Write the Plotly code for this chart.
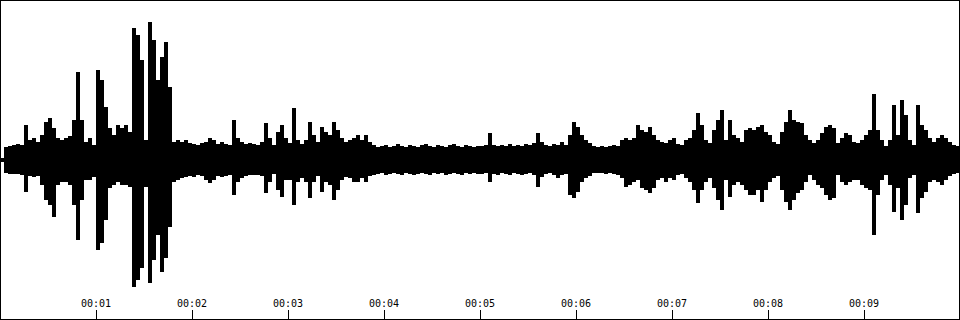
import numpy as np
import plotly.graph_objects as go

# Waveform envelope, 24 bins per second (peak amplitude above / below centre, scale +-160)
BINS_PER_SEC = 24
peak_top = [
    2, 13, 14, 15, 16, 15, 35, 20, 22, 18, 25, 38, 42, 32, 22, 20, 22, 24, 40, 88,
    40, 18, 22, 15, 90, 80, 53, 32, 25, 35, 32, 35, 28, 132, 125, 100, 20, 138, 120, 80,
    103, 118, 73, 18, 20, 18, 20, 17, 16, 15, 17, 18, 22, 20, 16, 18, 16, 15, 40, 22,
    18, 16, 17, 16, 15, 18, 37, 22, 15, 28, 35, 22, 17, 52, 20, 16, 20, 38, 25, 18,
    33, 28, 25, 38, 30, 22, 18, 20, 22, 25, 20, 25, 18, 15, 13, 14, 15, 13, 14, 16,
    14, 13, 15, 14, 13, 15, 16, 14, 13, 15, 14, 13, 15, 16, 14, 13, 15, 14, 13, 14,
    14, 15, 27, 15, 14, 15, 14, 16, 14, 15, 14, 16, 15, 17, 27, 18, 15, 14, 16, 15,
    18, 15, 25, 38, 33, 25, 20, 17, 14, 13, 14, 13, 14, 15, 14, 20, 22, 20, 22, 35,
    30, 28, 33, 25, 20, 18, 17, 20, 22, 16, 15, 20, 22, 30, 47, 35, 20, 17, 30, 40,
    50, 20, 40, 25, 22, 18, 30, 32, 30, 33, 35, 28, 25, 18, 16, 28, 38, 50, 40, 38,
    37, 25, 20, 17, 20, 27, 33, 35, 32, 17, 22, 27, 25, 18, 17, 20, 25, 30, 66, 30,
    20, 14, 20, 55, 25, 60, 45, 20, 15, 55, 35, 30, 22, 18, 22, 25, 22, 18, 15, 14,
]
peak_bottom = [
    2, 13, 14, 14, 14, 15, 32, 16, 17, 16, 25, 40, 45, 57, 25, 22, 22, 25, 45, 80,
    40, 20, 20, 17, 90, 83, 60, 28, 25, 22, 25, 25, 27, 127, 120, 108, 27, 123, 100, 75,
    112, 98, 67, 22, 20, 18, 17, 16, 17, 15, 16, 20, 23, 20, 16, 17, 16, 15, 35, 22,
    18, 16, 15, 15, 15, 16, 33, 22, 14, 30, 37, 20, 20, 45, 22, 18, 22, 38, 22, 16,
    32, 22, 25, 40, 30, 20, 17, 18, 22, 22, 18, 22, 16, 15, 14, 13, 15, 14, 13, 14,
    15, 13, 14, 15, 14, 13, 14, 15, 13, 14, 13, 15, 14, 13, 14, 15, 13, 14, 13, 14,
    14, 13, 22, 14, 15, 13, 14, 15, 13, 14, 15, 14, 13, 15, 27, 17, 14, 13, 15, 18,
    15, 14, 35, 38, 32, 22, 18, 16, 13, 13, 13, 14, 13, 14, 15, 18, 27, 25, 22, 20,
    28, 30, 33, 28, 20, 18, 22, 18, 20, 15, 14, 18, 22, 30, 43, 30, 22, 18, 28, 40,
    50, 20, 37, 25, 22, 25, 30, 35, 35, 30, 42, 30, 22, 18, 16, 30, 42, 50, 40, 33,
    30, 22, 15, 20, 25, 28, 35, 40, 38, 15, 22, 25, 22, 20, 20, 25, 28, 30, 75, 35,
    20, 15, 25, 52, 28, 60, 45, 18, 15, 53, 38, 32, 22, 20, 22, 25, 20, 16, 14, 13,
]
tick_seconds = [1, 2, 3, 4, 5, 6, 7, 8, 9]
tick_labels = ["00:01", "00:02", "00:03", "00:04", "00:05", "00:06", "00:07", "00:08", "00:09"]

top = np.array(peak_top, dtype=float)
bot = -np.array(peak_bottom, dtype=float)
t = (np.arange(len(top)) + 0.5) / BINS_PER_SEC

fig = go.Figure()
fig.add_trace(go.Bar(
    x=t, y=top - bot, base=bot, width=1.0 / BINS_PER_SEC,
    marker=dict(color="#000000", line=dict(width=0)),
    hoverinfo="skip", showlegend=False,
))

fig.update_layout(
    template="none",
    width=960, height=320,
    margin=dict(l=0, r=0, t=0, b=0),
    paper_bgcolor="#ffffff", plot_bgcolor="#ffffff",
    showlegend=False, bargap=0,
    font=dict(family="DejaVu Sans Mono", size=10, color="#000000"),
    xaxis=dict(
        range=[0, 10], showgrid=False, zeroline=False, showline=False,
        tickmode="array", tickvals=tick_seconds, ticktext=tick_labels,
        ticks="inside", ticklen=10, tickwidth=1, tickcolor="#000000",
        ticklabelposition="inside",
        tickfont=dict(family="DejaVu Sans Mono", size=10, color="#000000"),
    ),
    yaxis=dict(
        range=[-160, 160], showgrid=False, zeroline=False, showline=False,
        showticklabels=False, ticks="",
    ),
    shapes=[dict(
        type="rect", xref="paper", yref="paper", x0=0, y0=0, x1=1, y1=1,
        line=dict(color="#000000", width=2), layer="above",
    )],
)

fig.write_html("out.html")
